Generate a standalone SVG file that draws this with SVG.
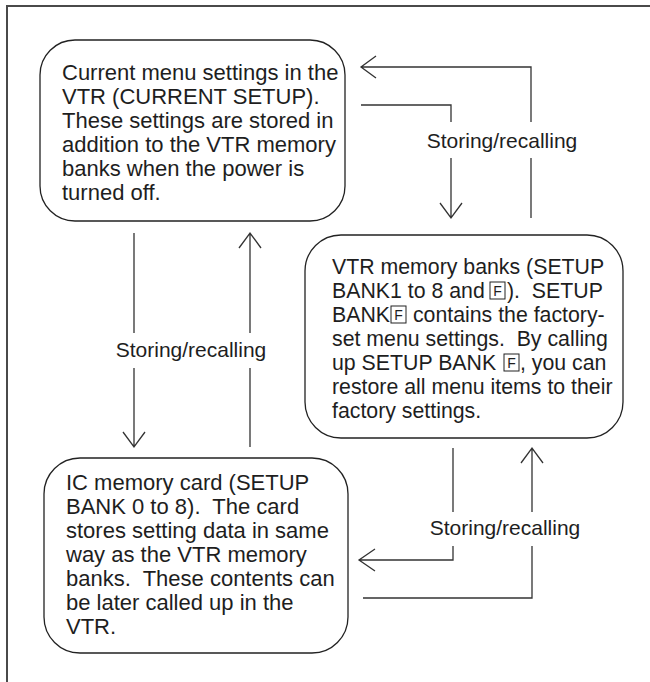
<svg xmlns="http://www.w3.org/2000/svg" width="650" height="682" viewBox="0 0 650 682">
<defs>
<style>
.frame{fill:none;stroke:#4a4a4a;stroke-width:2}
.box{fill:#fff;stroke:#222;stroke-width:1.3}
.ln{fill:none;stroke:#333;stroke-width:1.3}
.t{font-family:"Liberation Sans",Arial,sans-serif;font-size:22px;fill:#1e1e1e}
.t2{font-family:"Liberation Sans",Arial,sans-serif;font-size:21.3px;fill:#1e1e1e}
.lbl{font-family:"Liberation Sans",Arial,sans-serif;font-size:21px;fill:#1e1e1e;text-anchor:middle}
.fk{fill:none;stroke:#222;stroke-width:1}
.fl{font-family:"Liberation Sans",Arial,sans-serif;font-size:14px;fill:#1e1e1e;text-anchor:middle}
</style>
</defs>
<rect width="650" height="682" fill="#fff"/>
<path class="frame" d="M7,682 V6 H650"/>

<g id="current-setup">
<rect class="box" x="40" y="40" width="305" height="181" rx="35" ry="35"/>
<text class="t" x="62" y="80">Current menu settings in the</text>
<text class="t" x="62" y="104">VTR (CURRENT SETUP).</text>
<text class="t" x="62" y="128">These settings are stored in</text>
<text class="t" x="62" y="152">addition to the VTR memory</text>
<text class="t" x="62" y="176">banks when the power is</text>
<text class="t" x="62" y="200">turned off.</text>
</g>

<g id="vtr-memory-banks">
<rect class="box" x="305" y="235" width="318" height="203" rx="36" ry="36"/>
<text class="t2" x="332" y="274">VTR memory banks (SETUP</text>
<text class="t2" x="332" y="298">BANK1 to 8 and</text>
<rect class="fk" x="490" y="282" width="15" height="17"/>
<text class="fl" x="497.5" y="296">F</text>
<text class="t2" x="507" y="298" xml:space="preserve">).  SETUP</text>
<text class="t2" x="332" y="322">BANK</text>
<rect class="fk" x="391" y="306" width="15" height="17"/>
<text class="fl" x="398.5" y="320">F</text>
<text class="t2" x="407" y="322">&#160;contains the factory-</text>
<text class="t2" x="332" y="346" xml:space="preserve">set menu settings.  By calling</text>
<text class="t2" x="332" y="370">up SETUP BANK</text>
<rect class="fk" x="504" y="354" width="15" height="17"/>
<text class="fl" x="511.5" y="368">F</text>
<text class="t2" x="520" y="370">, you can</text>
<text class="t2" x="332" y="394">restore all menu items to their</text>
<text class="t2" x="332" y="418">factory settings.</text>
</g>

<g id="ic-memory-card">
<rect class="box" x="44" y="458" width="304" height="195" rx="36" ry="36"/>
<text class="t" x="66" y="490">IC memory card (SETUP</text>
<text class="t" x="66" y="514" xml:space="preserve">BANK 0 to 8).  The card</text>
<text class="t" x="66" y="538">stores setting data in same</text>
<text class="t" x="66" y="562">way as the VTR memory</text>
<text class="t" x="66" y="586" xml:space="preserve">banks.  These contents can</text>
<text class="t" x="66" y="610">be later called up in the</text>
<text class="t" x="66" y="634">VTR.</text>
</g>

<g id="connectors">
<path class="ln" d="M531,218 V158 M531,122 V67 H361 M376,56 L361,67 L376,78"/>
<path class="ln" d="M361,105 H451 V122 M451,158 V218 M440,203 L451,218 L462,203"/>
<text class="lbl" x="502" y="148">Storing/recalling</text>
<path class="ln" d="M134,233 V333 M134,368 V447 M123,432 L134,447 L145,432"/>
<path class="ln" d="M250,447 V368 M250,333 V233 M239,248 L250,233 L261,248"/>
<text class="lbl" x="191" y="357">Storing/recalling</text>
<path class="ln" d="M453,448 V512 M453,546 V560 H359 M375,549 L359,560 L375,571"/>
<path class="ln" d="M363,598 H532 V546 M532,512 V448 M521,463 L532,448 L543,463"/>
<text class="lbl" x="505" y="535">Storing/recalling</text>
</g>
</svg>
